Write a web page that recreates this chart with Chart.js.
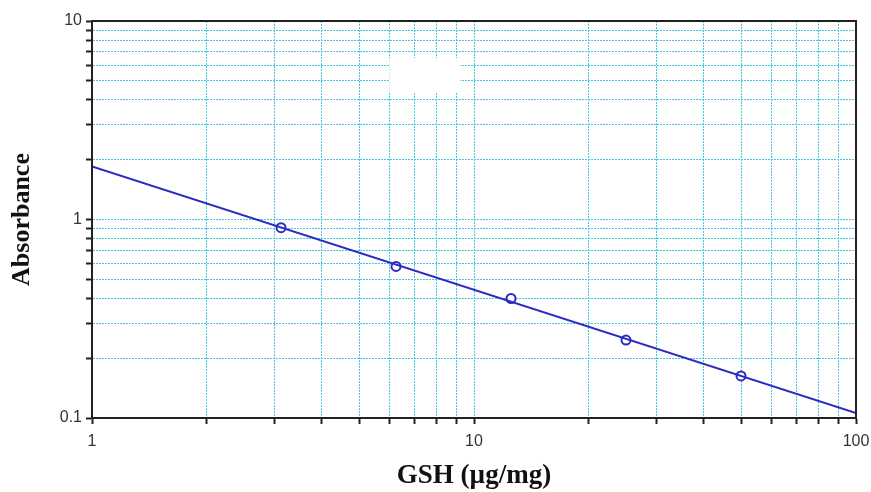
<!DOCTYPE html>
<html>
<head>
<meta charset="utf-8">
<script src="https://cdn.jsdelivr.net/npm/chart.js@4"></script>
<style>
  html, body { margin: 0; padding: 0; background: #fff; }
  #wrap { width: 871px; height: 492px; }
</style>
</head>
<body>
<div id="wrap"><canvas id="gshChart" width="871" height="492"></canvas></div>
<script>
// Standard points (GSH concentration vs absorbance)
const gshConc = [3.125, 6.25, 12.5, 25, 50];
const absorbance = [0.91, 0.58, 0.40, 0.247, 0.163];

// Fitted line end points
const fitX = [1, 100];
const fitY = [1.85, 0.106];

// Log grid ticks (1..9 per decade)
const xTicks = [1, 2, 3, 4, 5, 6, 7, 8, 9, 10, 20, 30, 40, 50, 60, 70, 80, 90, 100];
const yTicks = [0.1, 0.2, 0.3, 0.4, 0.5, 0.6, 0.7, 0.8, 0.9, 1, 2, 3, 4, 5, 6, 7, 8, 9, 10];
const xLabels = { 1: '1', 10: '10', 100: '100' };
const yLabels = { 0.1: '0.1', 1: '1', 10: '10' };

const gridCyan = '#45c4e4';
const lineBlue = '#2b2bc4';

// frame around plot + blank patch left over in the original
const framePlugin = {
  id: 'frame',
  afterDraw(chart) {
    const { ctx, chartArea: a, scales } = chart;
    ctx.save();
    ctx.setLineDash([]);
    ctx.fillStyle = '#fff';
    const x0 = scales.x.getPixelForValue(6.0), x1 = scales.x.getPixelForValue(9.2);
    const y0 = scales.y.getPixelForValue(6.5), y1 = scales.y.getPixelForValue(4.35);
    ctx.fillRect(x0, y0, x1 - x0, y1 - y0);
    ctx.strokeStyle = '#222';
    ctx.lineWidth = 2;
    ctx.strokeRect(a.left, a.top, a.right - a.left, a.bottom - a.top);
    ctx.restore();
  }
};

new Chart(document.getElementById('gshChart'), {
  type: 'scatter',
  data: {
    datasets: [
      {
        label: 'fit',
        data: fitX.map((x, i) => ({ x: x, y: fitY[i] })),
        showLine: true,
        borderColor: lineBlue,
        borderWidth: 2,
        pointRadius: 0
      },
      {
        label: 'GSH',
        data: gshConc.map((x, i) => ({ x: x, y: absorbance[i] })),
        showLine: false,
        pointRadius: 4.5,
        pointBorderWidth: 2,
        pointBorderColor: lineBlue,
        pointBackgroundColor: '#fff'
      }
    ]
  },
  options: {
    responsive: false,
    animation: false,
    layout: { padding: { left: 0, right: 15, top: 21, bottom: 0 } },
    plugins: {
      legend: { display: false },
      tooltip: { enabled: false }
    },
    scales: {
      x: {
        type: 'logarithmic',
        min: 1,
        max: 100,
        afterBuildTicks: s => { s.ticks = xTicks.map(v => ({ value: v })); },
        afterFit: s => { s.height = 74; s.paddingRight = 0; s.paddingLeft = 0; },
        ticks: {
          autoSkip: false,
          maxRotation: 0,
          padding: 8,
          color: '#333',
          font: { family: 'Liberation Sans', size: 16 },
          callback: v => xLabels[v] || ''
        },
        grid: {
          color: gridCyan,
          lineWidth: 1,
          tickColor: '#222',
          tickBorderDash: [],
          tickLength: 6,
          tickWidth: 2
        },
        border: { display: true, color: '#222', width: 2, dash: [2, 1] },
        title: {
          display: true,
          text: 'GSH (µg/mg)',
          color: '#111',
          font: { family: 'Liberation Serif', size: 27, weight: 'bold' },
          padding: { top: 0, bottom: 0 }
        }
      },
      y: {
        type: 'logarithmic',
        min: 0.1,
        max: 10,
        afterBuildTicks: s => { s.ticks = yTicks.map(v => ({ value: v })); },
        afterFit: s => { s.width = 92; },
        ticks: {
          autoSkip: false,
          padding: 4,
          color: '#333',
          font: { family: 'Liberation Sans', size: 16 },
          callback: v => yLabels[v] || ''
        },
        grid: {
          color: gridCyan,
          lineWidth: 1,
          tickColor: '#222',
          tickBorderDash: [],
          tickLength: 6,
          tickWidth: 2
        },
        border: { display: true, color: '#222', width: 2, dash: [2, 1] },
        title: {
          display: true,
          text: 'Absorbance',
          color: '#111',
          font: { family: 'Liberation Serif', size: 26, weight: 'bold' },
          padding: { top: 7, bottom: 0 }
        }
      }
    }
  },
  plugins: [framePlugin]
});
</script>
</body>
</html>
